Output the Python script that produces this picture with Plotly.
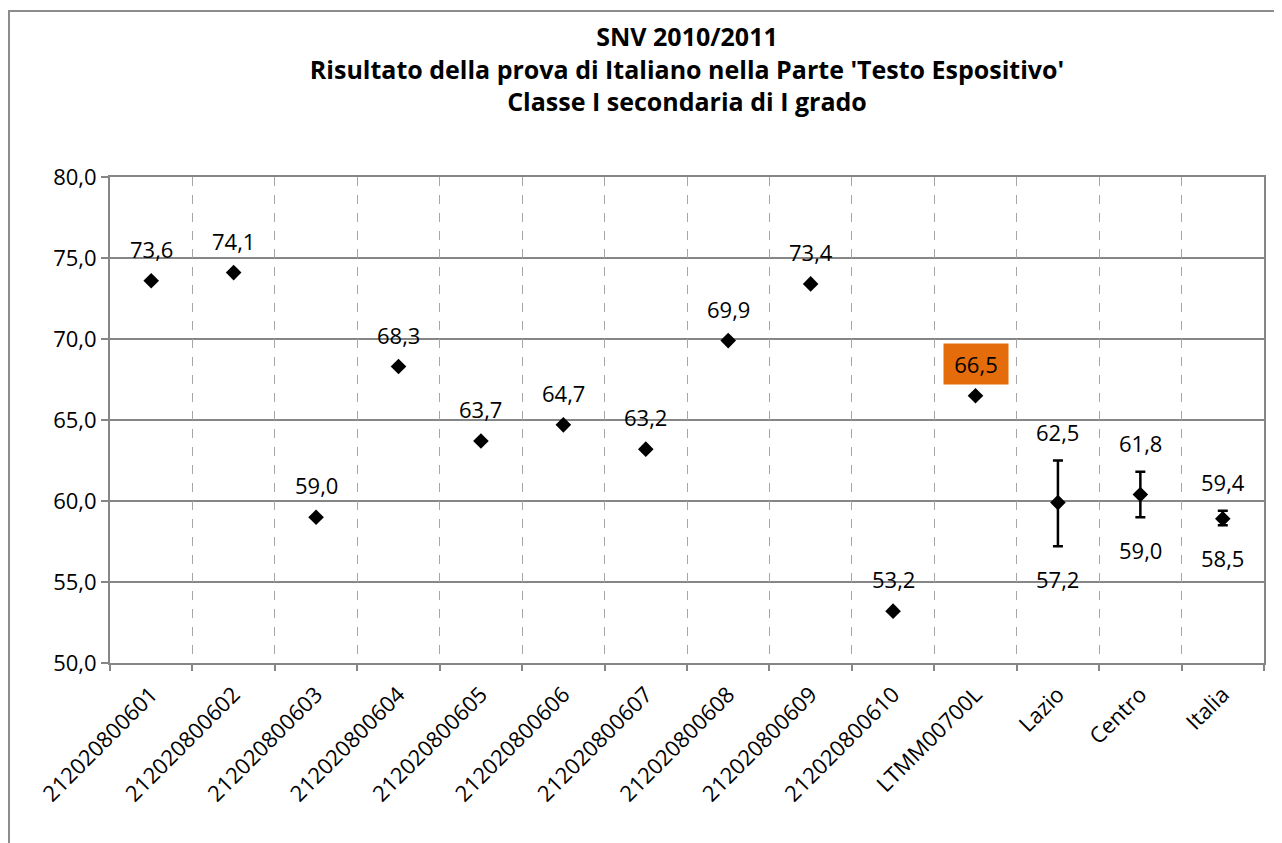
import plotly.graph_objects as go

categories = ["212020800601", "212020800602", "212020800603", "212020800604",
              "212020800605", "212020800606", "212020800607", "212020800608",
              "212020800609", "212020800610", "LTMM00700L", "Lazio", "Centro", "Italia"]
values = [73.6, 74.1, 59.0, 68.3, 63.7, 64.7, 63.2, 69.9, 73.4, 53.2, 66.5, 59.9, 60.4, 58.9]
upper = [None] * 11 + [62.5, 61.8, 59.4]
lower = [None] * 11 + [57.2, 59.0, 58.5]
label_text = ["73,6", "74,1", "59,0", "68,3", "63,7", "64,7", "63,2", "69,9", "73,4", "53,2", "66,5"]
upper_text = ["62,5", "61,8", "59,4"]
lower_text = ["57,2", "59,0", "58,5"]
y_ticks = [50, 55, 60, 65, 70, 75, 80]
y_tick_labels = ["50,0", "55,0", "60,0", "65,0", "70,0", "75,0", "80,0"]

FONT = "Open Sans"
W, H = 1274, 835
ML, MR, MT, MB = 102, 18, 169, 180

err_plus = [(u - v) if u is not None else 0 for u, v in zip(upper, values)]
err_minus = [(v - l) if l is not None else 0 for l, v in zip(lower, values)]
xpos = list(range(len(categories)))

fig = go.Figure()
fig.add_trace(go.Scatter(
    x=xpos, y=values, mode="markers",
    marker=dict(symbol="diamond", size=12, color="black"),
    error_y=dict(type="data", symmetric=False, array=err_plus, arrayminus=err_minus,
                 color="black", thickness=2.5, width=5),
    showlegend=False, hoverinfo="skip",
))

annotations = []
for i, t in enumerate(label_text):
    highlight = categories[i] == "LTMM00700L"
    a = dict(x=xpos[i], y=values[i], xref="x", yref="y", text=t, showarrow=False,
             yshift=32, font=dict(family=FONT, size=22, color="black"))
    if highlight:
        a.update(bgcolor="#E46C0A", borderpad=6, width=52, height=28)
    annotations.append(a)
for j, t in enumerate(upper_text):
    i = 11 + j
    annotations.append(dict(
        x=xpos[i], y=upper[i], xref="x", yref="y", text=t, showarrow=False,
        yshift=29, font=dict(family=FONT, size=22, color="black")))
for j, t in enumerate(lower_text):
    i = 11 + j
    annotations.append(dict(
        x=xpos[i], y=lower[i], xref="x", yref="y", text=t, showarrow=False,
        yshift=-33, font=dict(family=FONT, size=22, color="black")))

pw = W - ML - MR
ph = H - MT - MB
fig.update_layout(
    width=W, height=H,
    margin=dict(l=ML, r=MR, t=MT, b=MB, autoexpand=False),
    paper_bgcolor="white", plot_bgcolor="white",
    title=dict(
        text="SNV 2010/2011<br>Risultato della prova di Italiano nella Parte 'Testo Espositivo'<br>Classe I secondaria di I grado",
        x=0.5, xanchor="center", xref="paper", y=1 - 38 / H, yanchor="top", yref="container",
        font=dict(family=FONT, size=25, color="black", weight="bold"),
    ),
    font=dict(family=FONT, size=22, color="black"),
    annotations=annotations,
    shapes=[dict(type="rect", xref="paper", yref="paper",
                 x0=(1 - ML) / pw, x1=1.2, y0=-0.6, y1=(H - MB - 3) / ph,
                 line=dict(color="#8c8c8c", width=2), layer="below")],
)
fig.update_xaxes(
    tickmode="array", tickvals=xpos, ticktext=categories,
    tickangle=-45, showgrid=False,
    showline=True, linecolor="#868686", linewidth=2, mirror=True,
    ticks="", range=[-0.5, 13.5], zeroline=False, ticklabelstandoff=8,
    tickfont=dict(family=FONT, size=22, color="black"),
)
# boundary gridlines and tick marks via a second overlaying axis
fig.update_layout(xaxis2=dict(
    overlaying="x", matches="x", range=[-0.5, 13.5],
    tickmode="array", tickvals=[k + 0.5 for k in xpos[:-1]] + [-0.5, 13.5],
    showticklabels=False, showgrid=True, gridcolor="#a6a6a6", griddash="dash", gridwidth=1,
    ticks="outside", ticklen=7, tickcolor="#868686", tickwidth=1.5, side="bottom",
    zeroline=False, showline=False,
))
fig.add_trace(go.Scatter(x=[0], y=[None], xaxis="x2", showlegend=False, hoverinfo="skip"))
fig.update_yaxes(
    range=[50, 80], tickvals=y_ticks, ticktext=y_tick_labels,
    showgrid=True, gridcolor="#868686", gridwidth=2,
    showline=True, linecolor="#868686", linewidth=2, mirror=True,
    ticks="outside", ticklen=7, tickcolor="#868686", tickwidth=1.5,
    tickfont=dict(family=FONT, size=22, color="black"), zeroline=False,
)

fig.write_html("out.html")
